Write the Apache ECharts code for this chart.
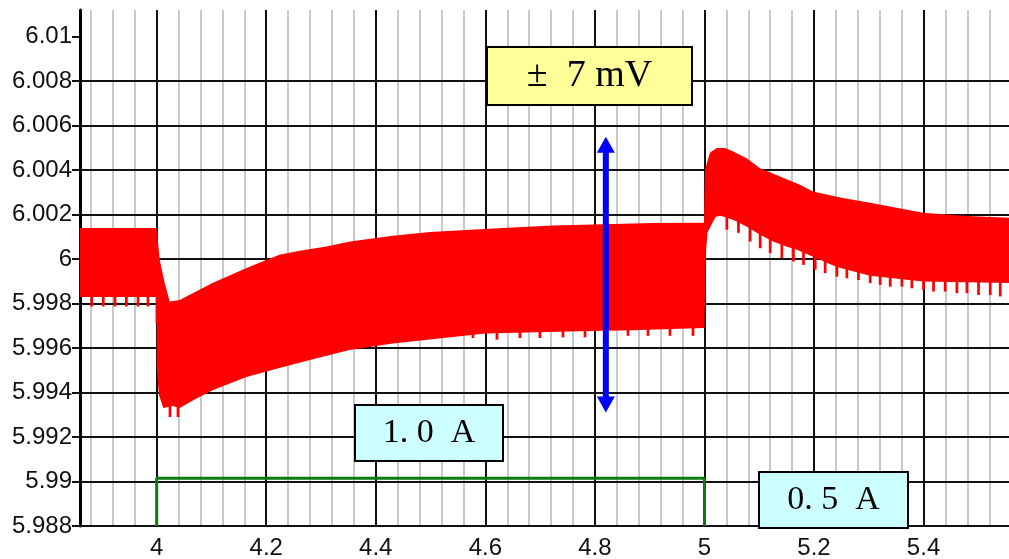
<!DOCTYPE html>
<html>
<head>
<meta charset="utf-8">
<script src="https://cdn.jsdelivr.net/npm/echarts@6/dist/echarts.min.js"></script>
<style>
    html, body { margin: 0; padding: 0; background: #fff; }
    #main { width: 1009px; height: 559px; }
</style>
</head>
<body>
<div id="main"></div>
<script>
// ripple band: upper and lower envelope of the output voltage (V) over time (s)
var bandTop = [
    [3.86, 6.0014], [4.0, 6.0014], [4.0055, 5.99997], [4.0146, 5.99893], [4.0237, 5.99809],
    [4.042, 5.99816], [4.102, 5.99893], [4.164, 5.9996], [4.224, 6.0002], [4.261, 6.00038],
    [4.31, 6.00057], [4.353, 6.00079], [4.431, 6.00105], [4.499, 6.00122], [4.631, 6.0014],
    [4.724, 6.00151], [4.906, 6.00162], [4.999, 6.00163], [5.0009, 6.00402], [5.01, 6.00478],
    [5.0223, 6.00499], [5.0374, 6.005], [5.0526, 6.00484], [5.0771, 6.00454], [5.1014, 6.00409],
    [5.1379, 6.00371], [5.1744, 6.00334], [5.1982, 6.00304], [5.25, 6.00276], [5.3023, 6.00253],
    [5.3991, 6.00208], [5.48, 6.00194], [5.556, 6.00186]
];
var bandBottom = [
    [3.86, 5.9983], [3.998, 5.9983], [3.998, 5.9971], [4.0, 5.9971], [4.0, 5.9952],
    [4.004, 5.9939], [4.012, 5.9933], [4.03, 5.9934], [4.042, 5.9933], [4.07, 5.9937],
    [4.102, 5.9941], [4.164, 5.9947], [4.224, 5.9951], [4.285, 5.9955], [4.35, 5.9959],
    [4.431, 5.9962], [4.6, 5.99665], [4.75, 5.99675], [4.87, 5.9968], [4.998, 5.9969],
    [5.0, 5.9969], [5.002, 5.99995], [5.0037, 6.0006], [5.0055, 6.0012], [5.011, 6.00146],
    [5.0205, 6.0019], [5.0296, 6.00195], [5.0521, 6.00177], [5.0777, 6.00145], [5.1014, 6.00109],
    [5.1251, 6.00079], [5.1507, 6.00056], [5.169, 6.00042], [5.1982, 6.00011], [5.2415, 5.99965],
    [5.3023, 5.99925], [5.3991, 5.99899], [5.556, 5.99892]
];
// downward ripple spikes on the lower edge: [time, lowest voltage]
var dips = [
    [3.8813, 5.99787], [3.9025, 5.99787], [3.9239, 5.99787], [3.9447, 5.99787], [3.9659, 5.99787],
    [3.9841, 5.99787], [4.0243, 5.9929], [4.0389, 5.9929],
    [4.5774, 5.99645], [4.6212, 5.99638], [4.6632, 5.99645], [4.6997, 5.99645], [4.7417, 5.99648],
    [4.7819, 5.99648], [4.8604, 5.99655], [4.897, 5.99655], [4.9371, 5.99655], [4.9791, 5.99655],
    [5.0409, 6.00132], [5.0621, 6.00118], [5.0834, 6.00079], [5.1017, 6.00049], [5.12, 6.00027],
    [5.1413, 6.00004], [5.1625, 5.99989], [5.1808, 5.99974], [5.2022, 5.99952], [5.2204, 5.99937],
    [5.2418, 5.99921], [5.26, 5.99914], [5.2812, 5.99906], [5.3026, 5.99892], [5.3208, 5.99884],
    [5.3391, 5.99876], [5.3605, 5.99876], [5.3787, 5.99869], [5.3999, 5.99862], [5.4182, 5.99854],
    [5.4395, 5.99854], [5.4609, 5.99847], [5.4792, 5.99847], [5.5004, 5.99839], [5.5217, 5.99839],
    [5.54, 5.99832]
];
// load current step (drawn on the voltage scale)
var loadStep = [[4.0, 5.988], [4.0, 5.99015], [5.0, 5.99015], [5.0, 5.988]];
// +-7 mV double arrow: [time, bottom tip, top tip]
var arrowSpan = [[4.82, 5.9931, 6.0055]];
var yTicks = [5.988, 5.99, 5.992, 5.994, 5.996, 5.998, 6.0, 6.002, 6.004, 6.006, 6.008, 6.01];
var xTicks = [4.0, 4.2, 4.4, 4.6, 4.8, 5.0, 5.2, 5.4];
var xMinorTicks = [
    3.88, 3.92, 3.96, 4.04, 4.08, 4.12, 4.16, 4.24, 4.28, 4.32, 4.36, 4.44, 4.48, 4.52, 4.56,
    4.64, 4.68, 4.72, 4.76, 4.84, 4.88, 4.92, 4.96, 5.04, 5.08, 5.12, 5.16, 5.24, 5.28, 5.32,
    5.36, 5.44, 5.48, 5.52
];

var labelFont = "'Liberation Sans', Arial, sans-serif";
var boxFont = "'Liberation Serif', 'DejaVu Serif', serif";

var renderBand = function (params, api) {
    if (params.dataIndex !== 0) return null;
    var pts = [];
    for (var i = 0; i < bandTop.length; i++) pts.push(api.coord(bandTop[i]));
    for (var j = bandBottom.length - 1; j >= 0; j--) pts.push(api.coord(bandBottom[j]));
    return {type: 'polygon', shape: {points: pts}, style: {fill: '#ff0000'}};
};

var renderDip = function (params, api) {
    var x = api.value(0), y = api.value(1);
    var a = api.coord([x - 0.0025, y + 0.0008]);
    var b = api.coord([x + 0.0025, y]);
    return {
        type: 'rect',
        shape: {x: a[0], y: a[1], width: b[0] - a[0], height: b[1] - a[1]},
        style: {fill: '#ff0000'}
    };
};

var renderArrow = function (params, api) {
    var lo = api.coord([api.value(0), api.value(1)]);
    var hi = api.coord([api.value(0), api.value(2)]);
    var cx = hi[0];
    return {
        type: 'group',
        children: [
            {type: 'line', shape: {x1: cx, y1: hi[1] + 10, x2: cx, y2: lo[1] - 10},
                style: {stroke: '#0000ff', lineWidth: 6}},
            {type: 'polygon', shape: {points: [[cx, hi[1]], [cx - 9, hi[1] + 16], [cx + 9, hi[1] + 16]]},
                style: {fill: '#0000ff'}},
            {type: 'polygon', shape: {points: [[cx, lo[1]], [cx - 9, lo[1] - 16], [cx + 9, lo[1] - 16]]},
                style: {fill: '#0000ff'}}
        ]
    };
};

var makeBox = function (text, left, top, width, height, fill, fontSize) {
    return {
        type: 'group',
        left: left,
        top: top,
        children: [
            {
                type: 'rect',
                z: 100,
                shape: {x: 0, y: 0, width: width, height: height},
                style: {fill: fill, stroke: '#000', lineWidth: 2}
            },
            {
                type: 'text',
                z: 101,
                x: width / 2,
                y: height / 2,
                style: {
                    text: text, fill: '#000', fontSize: fontSize, fontFamily: boxFont,
                    align: 'center', verticalAlign: 'middle',
                    textAlign: 'center', textVerticalAlign: 'middle'
                }
            }
        ]
    };
};

var chart = echarts.init(document.getElementById('main'));
var option = {
    animation: false,
    backgroundColor: '#fff',
    grid: {left: 80, right: 0, top: 10, bottom: 33, containLabel: false, outerBoundsMode: 'none'},
    xAxis: {
        type: 'value',
        min: 3.86,
        max: 5.556,
        splitNumber: 8,
        minInterval: 0.2,
        maxInterval: 0.2,
        axisLine: {show: true, onZero: false, lineStyle: {color: '#111', width: 2}},
        axisTick: {show: false},
        axisLabel: {
            color: '#111', fontSize: 24, fontFamily: labelFont, margin: 10, customValues: xTicks
        },
        splitLine: {show: true, showMinLine: false, showMaxLine: false, lineStyle: {color: '#111', width: 2}}
    },
    yAxis: {
        type: 'value',
        min: 5.988,
        max: 6.0112,
        interval: 0.002,
        axisLine: {show: true, onZero: false, lineStyle: {color: '#000', width: 3}},
        axisTick: {show: true, length: 8, lineStyle: {color: '#111', width: 2}, customValues: yTicks},
        axisLabel: {
            color: '#111', fontSize: 24, fontFamily: labelFont, margin: 8, customValues: yTicks
        },
        splitLine: {show: true, showMaxLine: false, lineStyle: {color: '#111', width: 2}}
    },
    series: [
        {
            // light minor grid lines, kept under the axis grid
            type: 'line', data: [], z: -1, silent: true,
            markLine: {
                z: -1, silent: true, symbol: 'none', animation: false,
                label: {show: false},
                lineStyle: {color: '#c8c8c8', width: 2, type: 'solid'},
                data: xMinorTicks.map(function (v) { return {xAxis: v}; })
            }
        },
        {type: 'custom', data: bandTop, renderItem: renderBand, z: 3, silent: true},
        {type: 'custom', data: dips, renderItem: renderDip, z: 3, silent: true},
        {
            type: 'line', data: loadStep, symbol: 'none', z: 4, silent: true,
            lineStyle: {color: '#0f7a0f', width: 3}
        },
        {
            type: 'custom', data: arrowSpan, renderItem: renderArrow, z: 5, silent: true,
            encode: {x: 0, y: [1, 2]}
        }
    ],
    graphic: [
        makeBox('\u00b1  7 mV', 486, 46, 205, 58, '#ffff99', 38),
        makeBox('1. 0  A', 354, 404, 148, 56, '#ccffff', 34),
        makeBox('0. 5  A', 758, 471, 149, 56, '#ccffff', 34)
    ]
};
chart.setOption(option);
</script>
</body>
</html>
